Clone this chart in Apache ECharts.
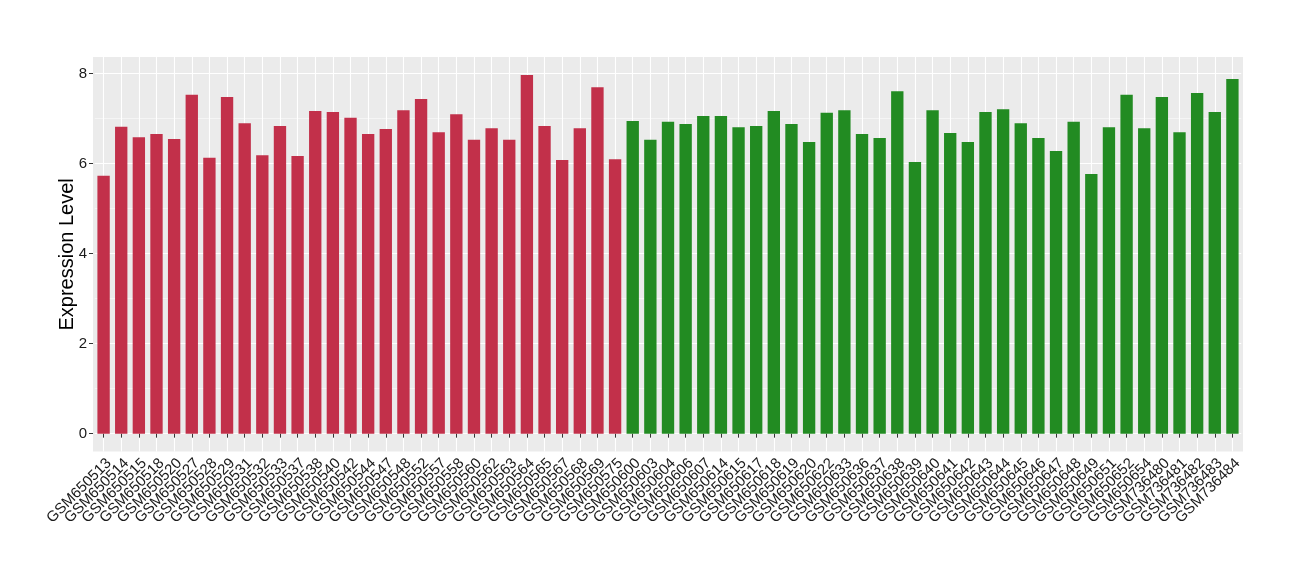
<!DOCTYPE html>
<html><head><meta charset="utf-8">
<script src="https://cdn.jsdelivr.net/npm/echarts@6/dist/echarts.min.js"></script>
<style>html,body{margin:0;padding:0;background:#fff}#c{width:1300px;height:580px}</style>
</head><body><div id="c"></div>
<script>
const redSamples = ["GSM650513","GSM650514","GSM650515","GSM650518","GSM650520","GSM650527","GSM650528","GSM650529","GSM650531","GSM650532","GSM650533","GSM650537","GSM650538","GSM650540","GSM650542","GSM650544","GSM650547","GSM650548","GSM650552","GSM650557","GSM650558","GSM650560","GSM650562","GSM650563","GSM650564","GSM650565","GSM650567","GSM650568","GSM650569","GSM650575"];
const redValues = [5.73,6.82,6.59,6.66,6.55,7.53,6.13,7.48,6.90,6.19,6.84,6.17,7.17,7.15,7.02,6.66,6.77,7.19,7.44,6.70,7.10,6.53,6.79,6.53,7.97,6.84,6.08,6.79,7.70,6.10];
const greenSamples = ["GSM650600","GSM650603","GSM650604","GSM650606","GSM650607","GSM650614","GSM650615","GSM650617","GSM650618","GSM650619","GSM650620","GSM650622","GSM650633","GSM650636","GSM650637","GSM650638","GSM650639","GSM650640","GSM650641","GSM650642","GSM650643","GSM650644","GSM650645","GSM650646","GSM650647","GSM650648","GSM650649","GSM650651","GSM650652","GSM650654","GSM736480","GSM736481","GSM736482","GSM736483","GSM736484"];
const greenValues = [6.95,6.53,6.93,6.88,7.06,7.06,6.81,6.84,7.17,6.88,6.48,7.13,7.19,6.66,6.57,7.61,6.04,7.19,6.68,6.48,7.15,7.21,6.90,6.57,6.28,6.93,5.77,6.81,7.53,6.79,7.48,6.70,7.57,7.15,7.88];
const yTicks = [0,2,4,6,8];
const yMinorTicks = [1,3,5,7];
const yTitle = "Expression Level";

const RED = '#C2304A', GREEN = '#228B22';
const categories = redSamples.concat(greenSamples);
const barData = redValues.map(v => ({value: v, itemStyle: {color: RED}}))
  .concat(greenValues.map(v => ({value: v, itemStyle: {color: GREEN}})));
const maxV = Math.max(...redValues, ...greenValues);
const yMin = -0.05 * maxV, yMax = maxV * 1.05;

// panel geometry (ggplot-like)
const PL = 93, PR = 1243, PT = 57.1, PB = 451.6;
const n = categories.length;
const step = (PR - PL) / (n + 0.2);
const GL = PL + 0.1 * step, GR = PR - 0.1 * step;

const chart = echarts.init(document.getElementById('c'), null, {renderer: 'canvas'});
chart.setOption({
  backgroundColor: '#fff',
  animation: false,
  textStyle: {fontFamily: 'Liberation Sans, Arial, sans-serif'},
  graphic: {elements: [{
    type: 'rect', z: -100, silent: true,
    shape: {x: PL, y: PT, width: PR - PL, height: PB - PT},
    style: {fill: '#EBEBEB'}
  }]},
  grid: {left: GL, right: 1300 - GR, top: PT, bottom: 580 - PB, containLabel: false},
  xAxis: [{
    type: 'category', data: categories,
    axisLine: {show: false},
    axisTick: {show: true, alignWithLabel: true, interval: 0, length: 4, lineStyle: {color: '#333', width: 1}},
    axisLabel: {interval: 0, rotate: 45, fontSize: 15, color: '#1a1a1a', margin: 4, align: 'right', verticalAlign: 'top'},
    splitLine: {show: true, interval: 0, alignWithLabel: true, lineStyle: {color: '#fff', width: 1.1}}
  }],
  yAxis: [{
    type: 'value', min: yMin, max: yMax, offset: GL - PL,
    name: yTitle, nameLocation: 'middle', nameRotate: 90, nameGap: 16, nameMoveOverlap: false,
    nameTextStyle: {fontSize: 20, color: '#000'},
    axisLine: {show: false},
    axisTick: {show: true, length: 4, customValues: yTicks, lineStyle: {color: '#333'}},
    axisLabel: {fontSize: 15, color: '#1a1a1a', margin: 6, customValues: yTicks},
    splitLine: {show: true, lineStyle: {color: '#fff', width: 1.1}}
  }, {
    type: 'value', min: yMin, max: yMax, position: 'left',
    axisLine: {show: false}, axisLabel: {show: false},
    axisTick: {show: false, customValues: yMinorTicks},
    splitLine: {show: true, lineStyle: {color: '#fff', width: 0.5}}
  }],
  series: [{
    type: 'bar', data: barData, barWidth: '70%', xAxisIndex: 0, yAxisIndex: 0
  }]
});
</script></body></html>
